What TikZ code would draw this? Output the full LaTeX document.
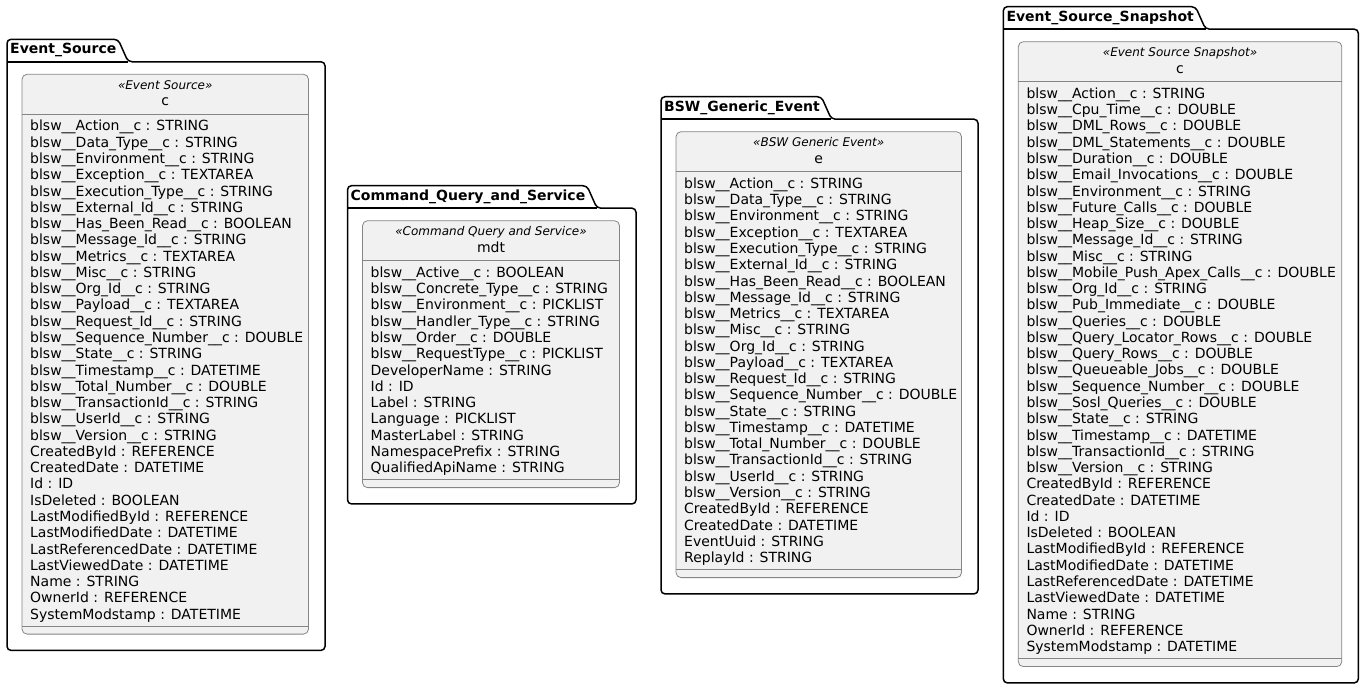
\documentclass[tikz,border=0pt]{standalone}
\usepackage{fontspec}
\setmainfont{DejaVu Sans}
\usetikzlibrary{calc}
\definecolor{umlborder}{HTML}{858585}
\definecolor{umlfill}{HTML}{F1F1F1}
\tikzset{
  pkgline/.style={draw=black, line width=1.5pt, rounded corners=4pt},
  pkgbar/.style={draw=black, line width=1.5pt},
  classbox/.style={draw=umlborder, fill=umlfill, line width=0.8pt, rounded corners=5pt, inner sep=0pt, outer sep=0pt},
  sepline/.style={draw=umlborder, line width=0.8pt},
  attr/.style={inner sep=0pt, font=\fontsize{14}{16}\selectfont},
  stereo/.style={inner sep=0pt, font=\itshape\fontsize{12}{14}\selectfont},
  cname/.style={inner sep=0pt, font=\fontsize{14}{16}\selectfont},
  pkglabel/.style={inner sep=0pt, font=\bfseries\fontsize{14}{16}\selectfont},
}
% #1 id, #2 package name, #3 left, #4 right, #5 class top, #6 rows, #7 stereotype, #8 class name, #9 rows
\newcommand\classpkg[9]{%
  \pgfmathsetmacro\zzBT{#5-12.5}%
  \pgfmathsetmacro\zzTT{\zzBT-22.5}%
  \pgfmathsetmacro\zzLast{#5+56.7+(#6-1)*16.27}%
  \pgfmathsetmacro\zzSepB{\zzLast+7}%
  \pgfmathsetmacro\zzCB{\zzSepB+8}%
  \pgfmathsetmacro\zzPB{\zzCB+16.3}%
  \pgfmathsetmacro\zzCL{#3+15}%
  \pgfmathsetmacro\zzCR{#4-16.5}%
  \pgfmathsetmacro\zzW{\zzCR-\zzCL}%
  \pgfmathsetmacro\zzH{\zzCB-#5}%
  \pgfmathsetmacro\zzMid{(\zzCL+\zzCR)/2}%
  \node[pkglabel, anchor=base west] (#1-tab) at (#3+3, \zzTT+14.5) {#2};
  \coordinate (#1-tt) at (#3, \zzTT);
  \coordinate (#1-bt) at (#3, \zzBT);
  \coordinate (#1-e) at ($(#1-tab.east)+(1.5,0)$);
  \coordinate (#1-a) at (#1-e |- #1-tt);
  \coordinate (#1-b) at ($(#1-e |- #1-bt)+(10,0)$);
  \draw[pkgline] (#1-bt) -- (#1-tt) -- (#1-a) -- (#1-b) -- (#4, \zzBT) -- (#4, \zzPB) -- (#3, \zzPB) -- cycle;
  \draw[pkgbar] (#1-bt) -- (#1-b);
  \node[classbox, anchor=north west, minimum width=\zzW pt, minimum height=\zzH pt] (#1-box) at (\zzCL, #5) {};
  \draw[sepline] (\zzCL, #5+40) -- (\zzCR, #5+40);
  \draw[sepline] (\zzCL, \zzSepB) -- (\zzCR, \zzSepB);
  \node[stereo, anchor=base] (#1-st) at (\zzMid, #5+15.2) {«#7»};
  \node[cname, anchor=base] (#1-nm) at (\zzMid, #5+31.5) {#8};
  \foreach \r [count=\i from 0] in {#9} {
    \node[attr, anchor=base west] (#1-r\i) at (\zzCL+8, #5+56.7+\i*16.27) {\r};
  }
}
\begin{document}
\catcode`\_=12
\begin{tikzpicture}[x=1pt, y=-1pt]
\useasboundingbox (0,0) rectangle (1364,690);
\classpkg{es}{Event_Source}{7}{325}{74.3}{31}{Event Source}{c}{%
blsw__Action__c : STRING,
blsw__Data_Type__c : STRING,
blsw__Environment__c : STRING,
blsw__Exception__c : TEXTAREA,
blsw__Execution_Type__c : STRING,
blsw__External_Id__c : STRING,
blsw__Has_Been_Read__c : BOOLEAN,
blsw__Message_Id__c : STRING,
blsw__Metrics__c : TEXTAREA,
blsw__Misc__c : STRING,
blsw__Org_Id__c : STRING,
blsw__Payload__c : TEXTAREA,
blsw__Request_Id__c : STRING,
blsw__Sequence_Number__c : DOUBLE,
blsw__State__c : STRING,
blsw__Timestamp__c : DATETIME,
blsw__Total_Number__c : DOUBLE,
blsw__TransactionId__c : STRING,
blsw__UserId__c : STRING,
blsw__Version__c : STRING,
CreatedById : REFERENCE,
CreatedDate : DATETIME,
Id : ID,
IsDeleted : BOOLEAN,
LastModifiedById : REFERENCE,
LastModifiedDate : DATETIME,
LastReferencedDate : DATETIME,
LastViewedDate : DATETIME,
Name : STRING,
OwnerId : REFERENCE,
SystemModstamp : DATETIME}
\classpkg{cqs}{Command_Query_and_Service}{347.5}{636}{220.7}{13}{Command Query and Service}{mdt}{%
blsw__Active__c : BOOLEAN,
blsw__Concrete_Type__c : STRING,
blsw__Environment__c : PICKLIST,
blsw__Handler_Type__c : STRING,
blsw__Order__c : DOUBLE,
blsw__RequestType__c : PICKLIST,
DeveloperName : STRING,
Id : ID,
Label : STRING,
Language : PICKLIST,
MasterLabel : STRING,
NamespacePrefix : STRING,
QualifiedApiName : STRING}
\classpkg{bsw}{BSW_Generic_Event}{661}{978}{131.7}{24}{BSW Generic Event}{e}{%
blsw__Action__c : STRING,
blsw__Data_Type__c : STRING,
blsw__Environment__c : STRING,
blsw__Exception__c : TEXTAREA,
blsw__Execution_Type__c : STRING,
blsw__External_Id__c : STRING,
blsw__Has_Been_Read__c : BOOLEAN,
blsw__Message_Id__c : STRING,
blsw__Metrics__c : TEXTAREA,
blsw__Misc__c : STRING,
blsw__Org_Id__c : STRING,
blsw__Payload__c : TEXTAREA,
blsw__Request_Id__c : STRING,
blsw__Sequence_Number__c : DOUBLE,
blsw__State__c : STRING,
blsw__Timestamp__c : DATETIME,
blsw__Total_Number__c : DOUBLE,
blsw__TransactionId__c : STRING,
blsw__UserId__c : STRING,
blsw__Version__c : STRING,
CreatedById : REFERENCE,
CreatedDate : DATETIME,
EventUuid : STRING,
ReplayId : STRING}
\classpkg{ess}{Event_Source_Snapshot}{1003.3}{1358.3}{41.7}{35}{Event Source Snapshot}{c}{%
blsw__Action__c : STRING,
blsw__Cpu_Time__c : DOUBLE,
blsw__DML_Rows__c : DOUBLE,
blsw__DML_Statements__c : DOUBLE,
blsw__Duration__c : DOUBLE,
blsw__Email_Invocations__c : DOUBLE,
blsw__Environment__c : STRING,
blsw__Future_Calls__c : DOUBLE,
blsw__Heap_Size__c : DOUBLE,
blsw__Message_Id__c : STRING,
blsw__Misc__c : STRING,
blsw__Mobile_Push_Apex_Calls__c : DOUBLE,
blsw__Org_Id__c : STRING,
blsw__Pub_Immediate__c : DOUBLE,
blsw__Queries__c : DOUBLE,
blsw__Query_Locator_Rows__c : DOUBLE,
blsw__Query_Rows__c : DOUBLE,
blsw__Queueable_Jobs__c : DOUBLE,
blsw__Sequence_Number__c : DOUBLE,
blsw__Sosl_Queries__c : DOUBLE,
blsw__State__c : STRING,
blsw__Timestamp__c : DATETIME,
blsw__TransactionId__c : STRING,
blsw__Version__c : STRING,
CreatedById : REFERENCE,
CreatedDate : DATETIME,
Id : ID,
IsDeleted : BOOLEAN,
LastModifiedById : REFERENCE,
LastModifiedDate : DATETIME,
LastReferencedDate : DATETIME,
LastViewedDate : DATETIME,
Name : STRING,
OwnerId : REFERENCE,
SystemModstamp : DATETIME}
\end{tikzpicture}
\end{document}
